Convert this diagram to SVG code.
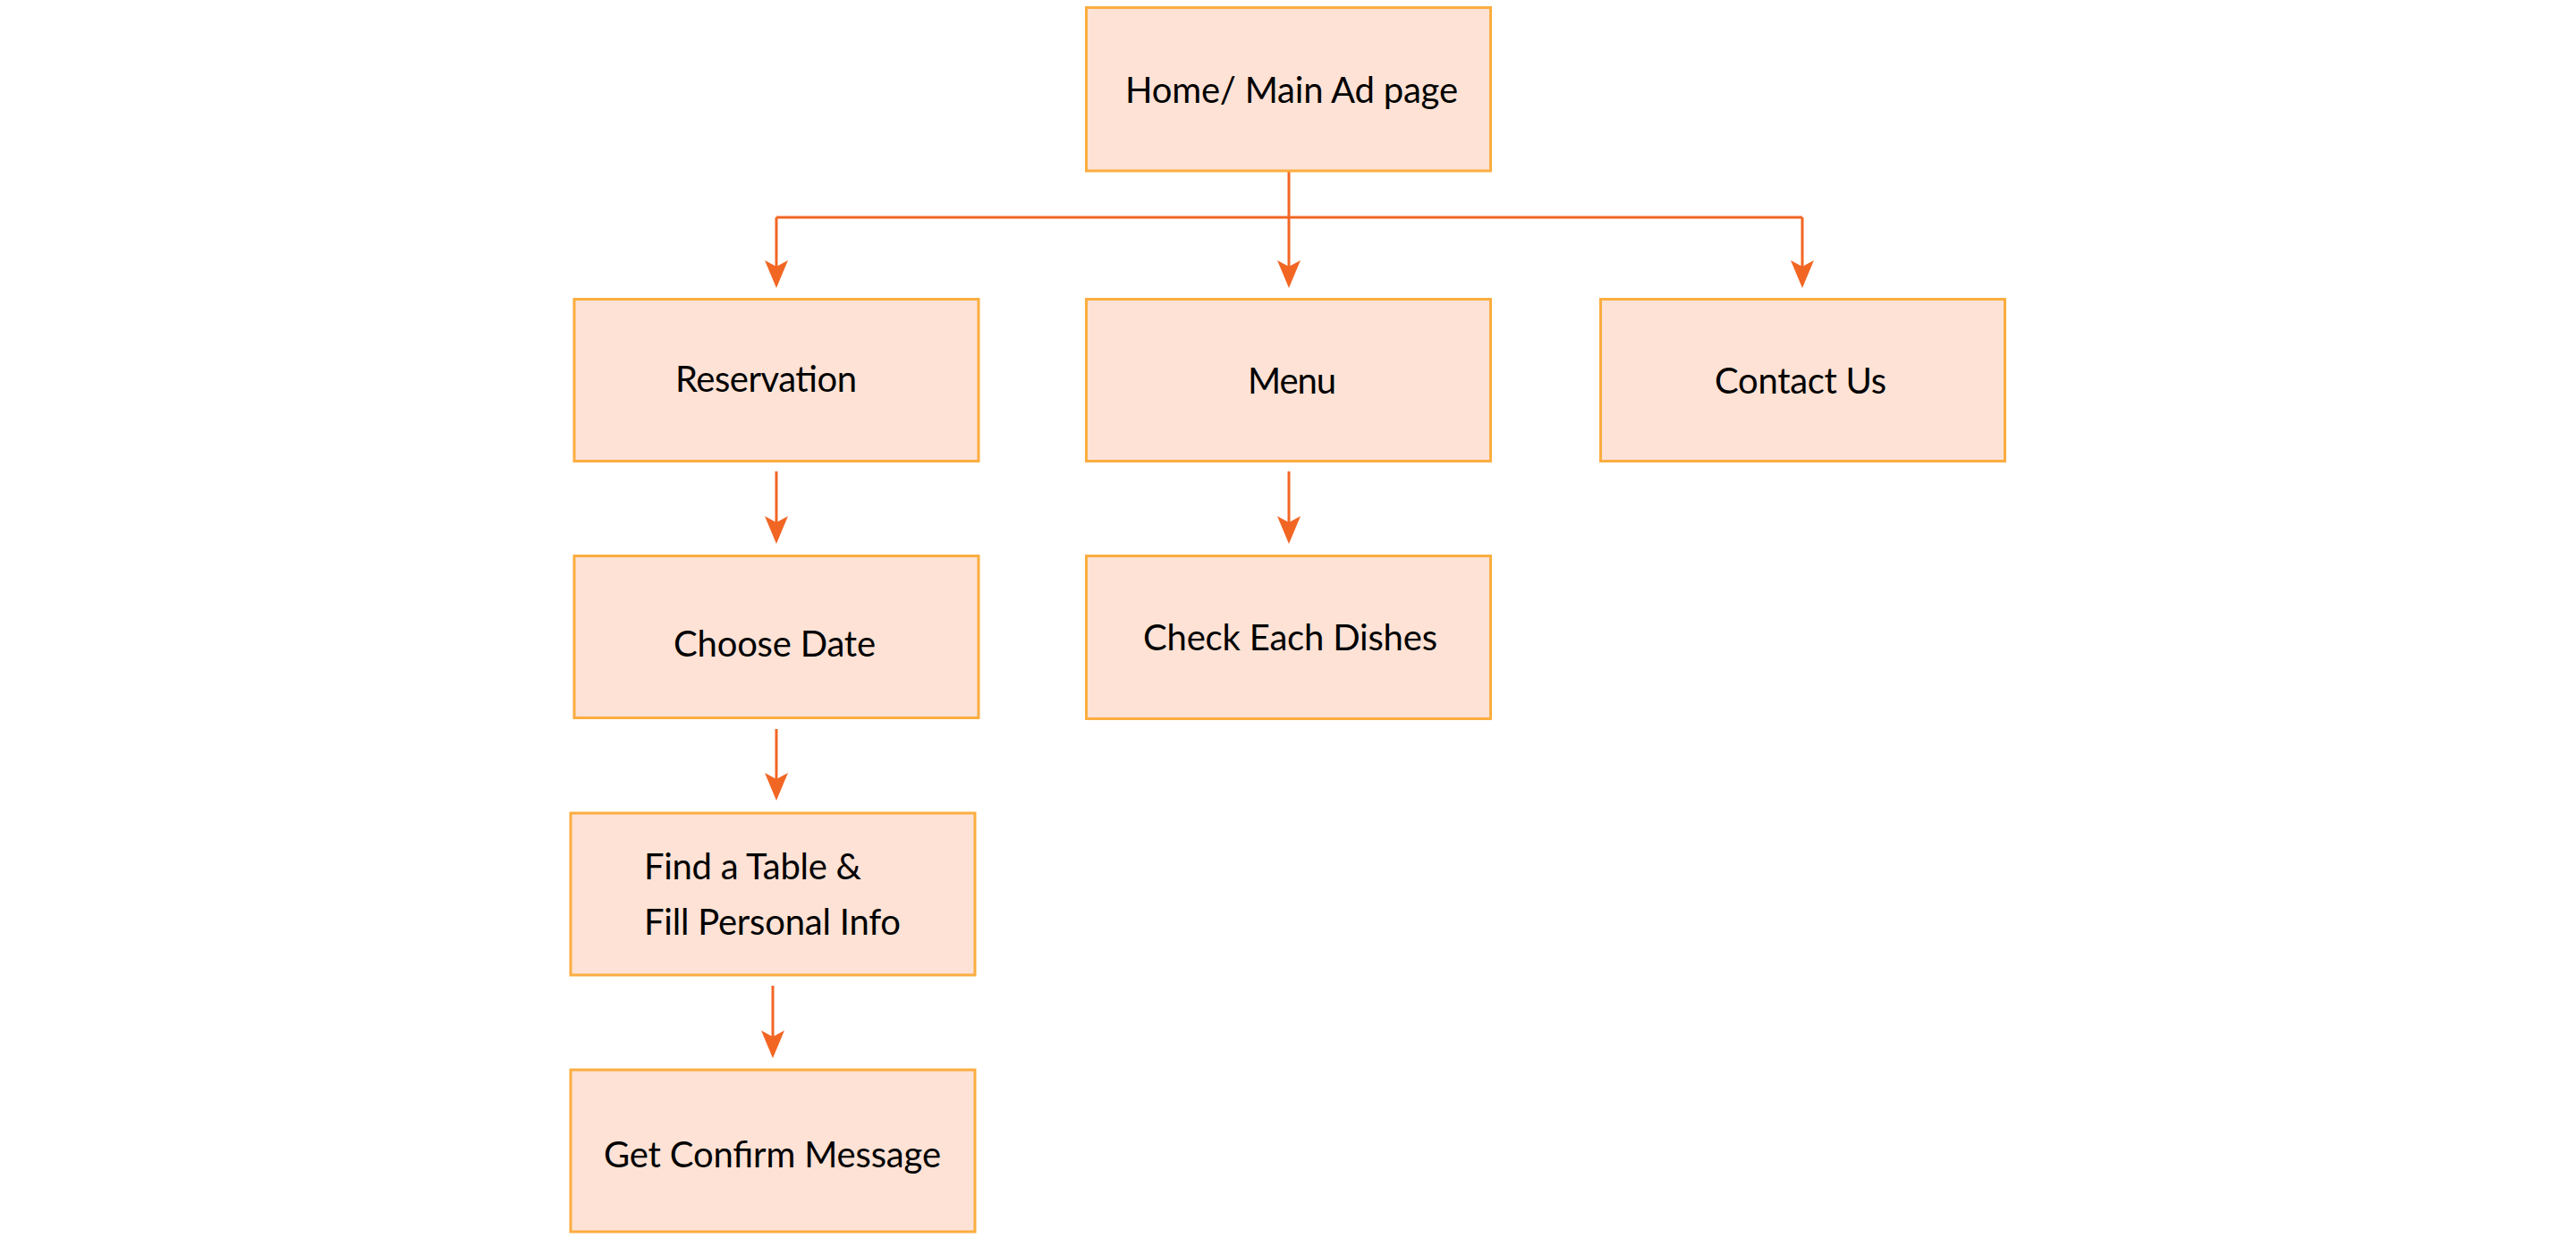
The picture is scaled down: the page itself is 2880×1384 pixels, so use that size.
<svg xmlns="http://www.w3.org/2000/svg" width="2880" height="1384" viewBox="0 0 2880 1384">
  <style>
    .box { fill: #FDE2D5; stroke: #FBAD40; stroke-width: 3; }
    .lbl { font-family: Lato, "Open Sans", "Noto Sans", sans-serif; font-size: 40px; fill: #000000; }
    .conn { fill: none; stroke: #F26624; stroke-width: 3; }
  </style>
  <defs>
    <marker id="arrow" markerUnits="userSpaceOnUse" markerWidth="32" markerHeight="28" refX="21" refY="13" orient="auto" viewBox="0 0 32 28">
      <path d="M0,0 L31,13 L0,26 L7,13 Z" fill="#F26624"/>
    </marker>
  </defs>
  <rect width="2880" height="1384" fill="#FFFFFF"/>

  <g id="connectors">
    <path class="conn" d="M1441,192 V312" marker-end="url(#arrow)"/>
    <path class="conn" d="M868,243 H2015"/>
    <path class="conn" d="M868,243 V312" marker-end="url(#arrow)"/>
    <path class="conn" d="M2015,243 V312" marker-end="url(#arrow)"/>
    <path class="conn" d="M868,527 V598" marker-end="url(#arrow)"/>
    <path class="conn" d="M1441,527 V598" marker-end="url(#arrow)"/>
    <path class="conn" d="M868,815 V885" marker-end="url(#arrow)"/>
    <path class="conn" d="M864,1102 V1173" marker-end="url(#arrow)"/>
  </g>

  <g id="node-home">
    <rect class="box" x="1214.5" y="8.5" width="452" height="182.5"/>
    <text class="lbl" x="1258" y="115" textLength="372">Home/ Main Ad page</text>
  </g>
  <g id="node-reservation">
    <rect class="box" x="642" y="334.5" width="452" height="181"/>
    <text class="lbl" x="755" y="438" textLength="203">Reservation</text>
  </g>
  <g id="node-menu">
    <rect class="box" x="1214.5" y="334.5" width="452" height="181"/>
    <text class="lbl" x="1395" y="440" textLength="99">Menu</text>
  </g>
  <g id="node-contact">
    <rect class="box" x="1789.5" y="334.5" width="452" height="181"/>
    <text class="lbl" x="1917" y="440" textLength="192">Contact Us</text>
  </g>
  <g id="node-choose-date">
    <rect class="box" x="642" y="621.5" width="452" height="181"/>
    <text class="lbl" x="753" y="734" textLength="226">Choose Date</text>
  </g>
  <g id="node-check-dishes">
    <rect class="box" x="1214.5" y="621.5" width="452" height="182"/>
    <text class="lbl" x="1278" y="727" textLength="329">Check Each Dishes</text>
  </g>
  <g id="node-find-table">
    <rect class="box" x="638" y="909" width="452" height="181"/>
    <text class="lbl" x="720" y="983" textLength="243">Find a Table &amp;</text>
    <text class="lbl" x="720" y="1045" textLength="287">Fill Personal Info</text>
  </g>
  <g id="node-confirm">
    <rect class="box" x="638" y="1196" width="452" height="181"/>
    <text class="lbl" x="675" y="1305" textLength="377">Get Confirm Message</text>
  </g>
</svg>
